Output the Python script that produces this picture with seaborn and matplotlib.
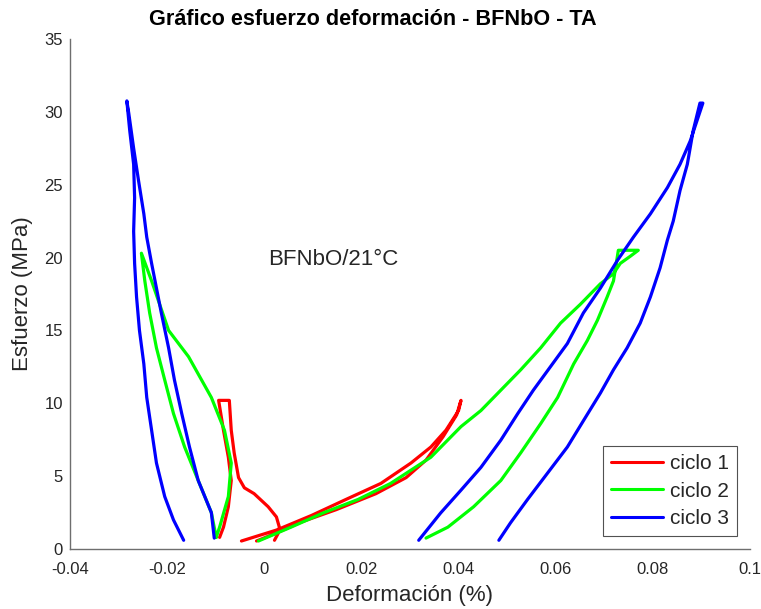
import numpy as np
import pandas as pd
import seaborn as sns
import matplotlib
matplotlib.use("Agg")
import matplotlib.pyplot as plt
from matplotlib import font_manager
from matplotlib.lines import Line2D

# ---------------- data ----------------
cycles = ["ciclo 1", "ciclo 2", "ciclo 3"]
colors = ["#ff0000", "#00ff00", "#0000ff"]

# ciclo 1 - transverse (left) branch
c1_left_x = [-0.0092, -0.0084, -0.0074, -0.0068, -0.0074, -0.0084, -0.0094,
             -0.0072, -0.0068, -0.0062, -0.0053, -0.0041, -0.0021, 0.0008,
             0.0025, 0.0031, 0.0029, 0.0021]
c1_left_y = [0.8, 1.5, 2.9, 4.7, 6.3, 8.15, 10.2,
             10.2, 8.15, 6.6, 4.9, 4.2, 3.8, 2.9,
             2.2, 1.5, 1.1, 0.6]
# ciclo 1 - longitudinal (right) branch
c1_right_x = [-0.0047, 0.0025, 0.0097, 0.0168, 0.0240, 0.0302, 0.0343, 0.0374,
              0.0400, 0.0405, 0.0396, 0.0368, 0.0333, 0.0292, 0.0230, 0.0148,
              0.0076, 0.0025, -0.0016]
c1_right_y = [0.55, 1.3, 2.3, 3.4, 4.5, 5.9, 7.0, 8.15,
              9.5, 10.2, 9.2, 7.7, 6.1, 4.9, 3.8, 2.7,
              1.85, 1.1, 0.55]

# ciclo 2 - transverse
c2_left_x = [-0.0099, -0.0109, -0.0136, -0.0164, -0.0187, -0.0205, -0.0222,
             -0.0236, -0.0246, -0.0253, -0.0232, -0.0197, -0.0156, -0.0109,
             -0.0082, -0.0068, -0.0074, -0.0092, -0.0099]
c2_left_y = [0.8, 2.5, 4.7, 7.0, 9.3, 11.6, 13.8,
             16.2, 18.4, 20.3, 18.4, 15.0, 13.2, 10.4,
             8.15, 5.9, 3.6, 1.5, 0.8]
# ciclo 2 - longitudinal
c2_right_x = [-0.0012, 0.0055, 0.0123, 0.0193, 0.0260, 0.0343, 0.0405, 0.0446,
              0.0487, 0.0528, 0.0569, 0.0610, 0.0651, 0.0692, 0.0719, 0.0733,
              0.0754, 0.0770, 0.0729, 0.0719, 0.0706, 0.0686, 0.0665, 0.0637,
              0.0604, 0.0569, 0.0528, 0.0487, 0.0431, 0.0378, 0.0333]
c2_right_y = [0.55, 1.5, 2.5, 3.4, 4.5, 6.3, 8.4, 9.5,
              10.9, 12.3, 13.8, 15.5, 16.8, 18.2, 18.9, 19.6,
              20.1, 20.5, 20.5, 18.4, 17.3, 15.7, 14.3, 12.7,
              10.4, 8.6, 6.6, 4.7, 2.9, 1.5, 0.75]

# ciclo 3 - transverse
c3_left_x = [-0.0103, -0.0109, -0.0136, -0.0154, -0.0170, -0.0185, -0.0197,
             -0.0212, -0.0222, -0.0232, -0.0242, -0.0248, -0.0259, -0.0269,
             -0.0279, -0.0283, -0.0277, -0.0269, -0.0267, -0.0269, -0.0267,
             -0.0263, -0.0257, -0.0248, -0.0242, -0.0232, -0.0222, -0.0205,
             -0.0187, -0.0166]
c3_left_y = [0.75, 2.5, 4.7, 7.0, 9.3, 11.6, 13.8,
             16.2, 17.9, 19.6, 21.4, 23.0, 25.3, 27.5,
             29.9, 30.75, 28.7, 26.4, 24.1, 21.8, 19.6,
             17.3, 15.0, 12.7, 10.4, 8.15, 5.9, 3.6,
             2.0, 0.6]
# ciclo 3 - longitudinal
c3_right_x = [0.0318, 0.0363, 0.0405, 0.0446, 0.0487, 0.0522, 0.0554, 0.0589,
              0.0624, 0.0657, 0.0692, 0.0727, 0.0760, 0.0795, 0.0830, 0.0856,
              0.0877, 0.0891, 0.0903, 0.0897, 0.0883, 0.0871, 0.0856, 0.0842,
              0.0830, 0.0815, 0.0795, 0.0774, 0.0747, 0.0719, 0.0692, 0.0657,
              0.0624, 0.0583, 0.0542, 0.0507, 0.0483]
c3_right_y = [0.6, 2.47, 4.04, 5.6, 7.47, 9.3, 10.9, 12.5,
              14.1, 16.2, 17.9, 19.8, 21.4, 23.0, 24.8, 26.4,
              28.0, 29.4, 30.6, 30.6, 28.7, 26.4, 24.6, 22.5,
              21.2, 19.3, 17.3, 15.5, 13.8, 12.3, 10.7, 8.8,
              7.0, 5.2, 3.4, 1.8, 0.6]

x_ticks = [-0.04, -0.02, 0, 0.02, 0.04, 0.06, 0.08, 0.1]
x_tick_labels = ["-0.04", "-0.02", "0", "0.02", "0.04", "0.06", "0.08", "0.1"]
y_ticks = [0, 5, 10, 15, 20, 25, 30, 35]

title = "Gráfico esfuerzo deformación - BFNbO - TA"
xlabel = "Deformación (%)"
ylabel = "Esfuerzo (MPa)"
annotation = "BFNbO/21°C"

# ---------------- build long table ----------------
segments = [
    ("ciclo 1", "c1L", c1_left_x, c1_left_y),
    ("ciclo 1", "c1R", c1_right_x, c1_right_y),
    ("ciclo 2", "c2L", c2_left_x, c2_left_y),
    ("ciclo 2", "c2R", c2_right_x, c2_right_y),
    ("ciclo 3", "c3L", c3_left_x, c3_left_y),
    ("ciclo 3", "c3R", c3_right_x, c3_right_y),
]
frames = []
for cyc, seg, xs, ys in segments:
    frames.append(pd.DataFrame({"x": xs, "y": ys, "ciclo": cyc, "seg": seg}))
df = pd.concat(frames, ignore_index=True)

# ---------------- style ----------------
sns.set_theme(style="white")
avail = {f.name for f in font_manager.fontManager.ttflist}
fam = [f for f in ["Liberation Sans", "DejaVu Sans"] if f in avail]
plt.rcParams["font.family"] = fam
plt.rcParams["axes.unicode_minus"] = False

fig = plt.figure(figsize=(7.61, 6.09), dpi=100)
ax = fig.add_axes([0.092, 0.0985, 0.8935, 0.8375])

palette = dict(zip(cycles, colors))
sns.lineplot(data=df, x="x", y="y", hue="ciclo", units="seg", estimator=None,
             sort=False, palette=palette, linewidth=2.3, ax=ax, legend=False)

ax.set_xlim(-0.04, 0.1)
ax.set_ylim(0, 35)
ax.set_xticks(x_ticks)
ax.set_xticklabels(x_tick_labels)
ax.set_yticks(y_ticks)
ax.tick_params(direction="in", length=5, width=0.8, colors="#404040",
               labelsize=12, labelcolor="#262626")
ax.tick_params(axis="x", pad=9)
ax.tick_params(axis="y", pad=5)
for s in ["top", "right"]:
    ax.spines[s].set_visible(False)
for s in ["left", "bottom"]:
    ax.spines[s].set_color("#6e6e6e")
    ax.spines[s].set_linewidth(1.0)

ax.set_xlabel(xlabel, fontsize=16, color="#262626", labelpad=6)
ax.set_ylabel(ylabel, fontsize=16, color="#262626", labelpad=8)
fig.suptitle(title, x=0.49, y=0.985, fontsize=15.6, fontweight="bold", color="black")

ax.text(0.0142, 19.9, annotation, fontsize=16, color="#262626",
        ha="center", va="center")

handles = [Line2D([0], [0], color=c, lw=2.2) for c in colors]
leg = ax.legend(handles, cycles, loc="lower right", bbox_to_anchor=(0.981, 0.025),
                fontsize=15, frameon=True, fancybox=False, handlelength=2.5,
                handletextpad=0.3, labelspacing=0.4, borderpad=0.4,
                borderaxespad=0)
leg.get_frame().set_edgecolor("#262626")
leg.get_frame().set_linewidth(0.8)

fig.savefig("out.png", dpi=100)
